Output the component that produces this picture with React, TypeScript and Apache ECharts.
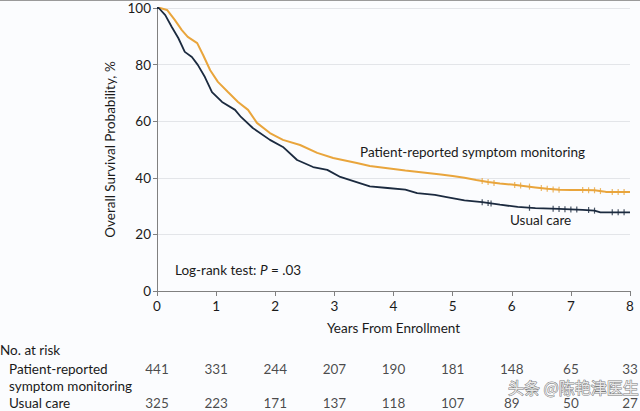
import React, { useEffect, useRef } from "react";
import * as echarts from "echarts";

// Kaplan-Meier curves (years, survival %)
const prT = [0, 0.05, 0.17, 0.3, 0.42, 0.52, 0.68, 0.78, 0.9, 1.03, 1.2, 1.37, 1.54, 1.69, 1.91, 2.13, 2.42, 2.71, 2.98, 3.38, 3.6, 3.9, 4.2, 4.5, 4.8, 5.0, 5.2, 5.4, 5.6, 5.8, 6.0, 6.2, 6.4, 6.6, 6.8, 7.0, 7.2, 7.4, 7.55, 7.6, 8.0];
const prS = [100, 100, 99.3, 95.8, 92.2, 89.8, 87.6, 83.4, 78, 73.9, 70.3, 66.8, 64, 59.4, 55.8, 53.4, 51.6, 48.8, 47, 45.2, 44.2, 43.4, 42.6, 41.9, 41.2, 40.6, 40, 39.2, 38.5, 38, 37.6, 37.1, 36.6, 36.1, 35.8, 35.7, 35.7, 35.6, 35.2, 35, 35];
const ucT = [0, 0.03, 0.14, 0.25, 0.36, 0.47, 0.59, 0.69, 0.81, 0.93, 1.1, 1.32, 1.42, 1.62, 1.91, 2.13, 2.37, 2.64, 2.88, 3.1, 3.27, 3.6, 3.9, 4.2, 4.4, 4.7, 4.9, 5.2, 5.5, 5.8, 6.1, 6.4, 6.8, 7.2, 7.4, 7.5, 8.0];
const ucS = [100, 100, 97.5, 93.3, 89.4, 84.5, 82.7, 79.9, 75.6, 70.3, 66.8, 64, 61.5, 57.6, 53.4, 50.9, 46.3, 43.8, 42.8, 40.3, 39.2, 37, 36.4, 35.8, 34.6, 34, 33.2, 32, 31.4, 30.5, 29.7, 29.3, 29, 28.7, 28.4, 27.8, 27.8];

// censoring marks
const prCensT = [5.5, 5.6, 5.7, 6.05, 6.15, 6.3, 6.5, 6.6, 6.7, 6.8, 7.2, 7.3, 7.4, 7.5, 7.7, 7.8, 7.9];
const prCensS = [38.9, 38.5, 38.2, 37.5, 37.3, 36.9, 36.4, 36.1, 35.9, 35.8, 35.7, 35.6, 35.6, 35.3, 35, 35, 35];
const ucCensT = [5.5, 5.6, 5.65, 6.3, 6.7, 6.8, 6.9, 7.0, 7.1, 7.3, 7.4, 7.7, 7.8, 7.9];
const ucCensS = [31.4, 31.1, 30.9, 29.4, 29.1, 29, 28.9, 28.8, 28.8, 28.6, 28.4, 27.8, 27.8, 27.8];

// numbers at risk
const riskYears = [0, 1, 2, 3, 4, 5, 6, 7, 8];
const riskPR = [441, 331, 244, 207, 190, 181, 148, 65, 33];
const riskUC = [325, 223, 171, 137, 118, 107, 89, 50, 27];

const yTicks = [0, 20, 40, 60, 80, 100];

const ORANGE = "#e9a53c";
const NAVY = "#1b2a3f";
const TXT = "#1a1a1a";
const FONT = "Lato";
const FS = 13.5;

export default function App() {
  const ref = useRef<HTMLDivElement>(null);
  useEffect(() => {
    document.body.style.margin = "0";
    const chart = echarts.init(ref.current!, undefined, { renderer: "svg" });
    const pair = (t: number[], s: number[]) => t.map((v, i) => [v, s[i]]);
    const riskLabel = {
      show: true,
      position: "inside",
      formatter: (p: any) => String(p.value[2]),
      color: TXT,
      fontSize: FS,
      fontFamily: FONT,
    };
    chart.setOption({
      animation: false,
      backgroundColor: "#fbfcfe",
      textStyle: { fontFamily: FONT },
      grid: [
        { left: 157, right: 10, top: 8, bottom: 120 },
        { left: 157, right: 10, top: 369, bottom: 8 },
      ],
      xAxis: [
        {
          gridIndex: 0,
          type: "value",
          min: 0,
          max: 8,
          interval: 1,
          axisLine: { lineStyle: { color: "#808080", width: 1 } },
          axisTick: { show: true, length: 5, lineStyle: { color: "#808080" } },
          axisLabel: { color: TXT, fontSize: FS, fontFamily: FONT, margin: 8 },
          splitLine: { show: false },
          name: "Years From Enrollment",
          nameLocation: "middle",
          nameGap: 30,
          nameTextStyle: { color: TXT, fontSize: FS, fontFamily: FONT },
        },
        { gridIndex: 1, type: "value", min: 0, max: 8, show: false },
      ],
      yAxis: [
        {
          gridIndex: 0,
          type: "value",
          min: 0,
          max: 100,
          interval: 20,
          axisLine: { show: true, lineStyle: { color: "#808080", width: 1 } },
          axisTick: { show: true, length: 4, lineStyle: { color: "#808080" } },
          axisLabel: {
            color: TXT,
            fontSize: FS,
            fontFamily: FONT,
            margin: 6,
            formatter: (v: number) => (yTicks.includes(v) ? String(v) : ""),
          },
          splitLine: { show: true, lineStyle: { color: "#e3e5e9", width: 1 } },
          name: "Overall Survival Probability, %",
          nameLocation: "middle",
          nameGap: 21,
          nameTextStyle: { color: TXT, fontSize: FS, fontFamily: FONT },
        },
        { gridIndex: 1, type: "value", min: 0, max: 1, show: false },
      ],
      series: [
        {
          type: "line",
          name: "Patient-reported symptom monitoring",
          data: pair(prT, prS),
          showSymbol: false,
          lineStyle: { color: ORANGE, width: 2 },
          z: 3,
        },
        {
          type: "line",
          name: "Usual care",
          data: pair(ucT, ucS),
          showSymbol: false,
          lineStyle: { color: NAVY, width: 1.8 },
          z: 4,
        },
        {
          type: "scatter",
          data: pair(prCensT, prCensS),
          symbol: "rect",
          symbolSize: [1.2, 6],
          itemStyle: { color: ORANGE },
          z: 3,
        },
        {
          type: "scatter",
          data: pair(ucCensT, ucCensS),
          symbol: "rect",
          symbolSize: [1.2, 6],
          itemStyle: { color: NAVY },
          z: 4,
        },
        {
          type: "scatter",
          xAxisIndex: 1,
          yAxisIndex: 1,
          symbolSize: 0,
          data: riskYears.map((t, i) => [t, 1, riskPR[i]]),
          label: riskLabel,
        },
        {
          type: "scatter",
          xAxisIndex: 1,
          yAxisIndex: 1,
          symbolSize: 0,
          data: riskYears.map((t, i) => [t, 0, riskUC[i]]),
          label: riskLabel,
        },
      ],
      graphic: [
        { type: "line", shape: { x1: 0, y1: 0.5, x2: 640, y2: 0.5 }, style: { stroke: "#9a9a9a", lineWidth: 1 } },
        {
          type: "text",
          x: 360,
          y: 152,
          style: { text: "Patient-reported symptom monitoring", fill: TXT, font: `${FS}px ${FONT}`, verticalAlign: "middle" },
        },
        {
          type: "text",
          x: 510,
          y: 220,
          style: { text: "Usual care", fill: TXT, font: `${FS}px ${FONT}`, verticalAlign: "middle" },
        },
        {
          type: "text",
          x: 175,
          y: 270,
          style: {
            text: "{a|Log-rank test: }{b|P}{a| = .03}",
            verticalAlign: "middle",
            rich: {
              a: { fill: TXT, fontSize: FS, fontFamily: FONT },
              b: { fill: TXT, fontSize: FS, fontFamily: FONT, fontStyle: "italic" },
            },
          },
        },
        { type: "text", x: 0, y: 350, style: { text: "No. at risk", fill: TXT, font: `${FS}px ${FONT}`, verticalAlign: "middle" } },
        { type: "text", x: 9, y: 369, style: { text: "Patient-reported", fill: TXT, font: `${FS}px ${FONT}`, verticalAlign: "middle" } },
        { type: "text", x: 9, y: 386, style: { text: "symptom monitoring", fill: TXT, font: `${FS}px ${FONT}`, verticalAlign: "middle" } },
        { type: "text", x: 9, y: 403, style: { text: "Usual care", fill: TXT, font: `${FS}px ${FONT}`, verticalAlign: "middle" } },
        {
          type: "text",
          x: 508,
          y: 387,
          z: 100,
          style: {
            text: "头条 @陈艳津医生",
            fill: "rgba(250,250,250,0.85)",
            stroke: "rgba(90,90,90,0.8)",
            lineWidth: 1,
            font: `16px "Noto Sans CJK SC"`,
            verticalAlign: "middle",
          },
        },
      ],
    });
    return () => chart.dispose();
  }, []);
  return <div ref={ref} style={{ width: 640, height: 411 }} />;
}
